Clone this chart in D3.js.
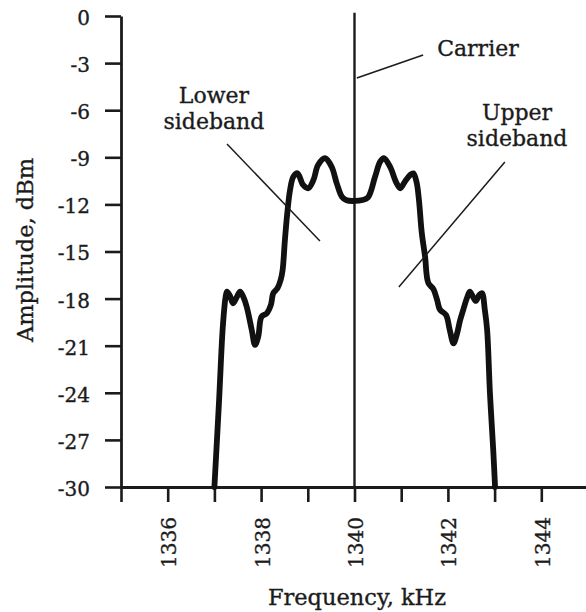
<!DOCTYPE html>
<html>
<head>
<meta charset="utf-8">
<script src="https://cdn.jsdelivr.net/npm/d3@7"></script>
<style>
  html, body { margin: 0; padding: 0; background: #fff; }
  svg { display: block; }
  text { font-family: "DejaVu Serif", "Liberation Serif", serif; fill: #1b1b1b;
         stroke: #1b1b1b; stroke-width: 0.35px; }
</style>
</head>
<body>
<svg id="chart" width="586" height="612"></svg>
<script>
// AM broadcast spectrum: carrier plus lower and upper sidebands
const spectrumKHz = [
  1337.00, 1337.10, 1337.18, 1337.24, 1337.27, 1337.33, 1337.40, 1337.48, 1337.55,
  1337.62, 1337.69, 1337.80, 1337.87, 1337.94, 1338.01, 1338.12, 1338.21, 1338.26,
  1338.35, 1338.42, 1338.46, 1338.51, 1338.56, 1338.62, 1338.69, 1338.78, 1338.90,
  1339.01, 1339.12, 1339.22, 1339.37, 1339.51, 1339.62, 1339.73, 1339.83, 1340.00,
  1340.17, 1340.29, 1340.44, 1340.55, 1340.63, 1340.76, 1340.90, 1340.98, 1341.08,
  1341.19, 1341.26, 1341.33, 1341.38, 1341.44, 1341.51, 1341.58, 1341.69, 1341.77,
  1341.83, 1341.96, 1342.04, 1342.12, 1342.19, 1342.26, 1342.33, 1342.41, 1342.47,
  1342.54, 1342.60, 1342.67, 1342.73, 1342.79, 1342.84, 1342.90, 1342.97, 1343.01
];
const spectrumDbm = [
  -30.0, -24.5, -19.8, -17.9, -17.55, -17.8, -18.3, -17.9, -17.56,
  -17.9, -18.5, -20.0, -20.95, -20.4, -19.15, -18.94, -18.4, -17.66,
  -17.34, -16.8, -16.2, -14.27, -12.57, -11.08, -10.24, -10.02, -10.76,
  -10.97, -10.45, -9.49, -9.06, -9.6, -10.66, -11.51, -11.74, -11.78,
  -11.72, -11.55, -10.24, -9.28, -9.06, -9.6, -10.64, -10.97, -10.55,
  -10.13, -10.02, -10.6, -11.72, -13.8, -15.3, -17.0, -17.4, -18.1,
  -18.7, -19.04, -20.0, -20.85, -20.3, -19.4, -18.7, -17.95, -17.56,
  -17.9, -18.15, -17.77, -17.66, -18.7, -20.0, -24.0, -27.6, -30.0
];
const carrierKHz = 1340;
const carrierDbm = 0.2;

const yTicks = [0, -3, -6, -9, -12, -15, -18, -21, -24, -27, -30];
const xTicks = [1335, 1336, 1337, 1338, 1339, 1340, 1341, 1342, 1343, 1344, 1345];
const xTickLabels = [1336, 1338, 1340, 1342, 1344];

// annotation text (lines) and leader lines, in kHz / dBm
const labelText = [["Carrier"], ["Lower", "sideband"], ["Upper", "sideband"]];
const labelAt = [[1341.77, -2.55], [1336.99, -5.54], [1343.48, -6.62]];
const labelAnchor = ["start", "middle", "middle"];
const leaderFrom = [[1340.05, -3.95], [1337.27, -8.15], [1343.22, -9.30]];
const leaderTo = [[1341.47, -2.48], [1339.26, -14.33], [1340.95, -17.26]];

const svg = d3.select("#chart");
const x = d3.scaleLinear().domain([1335, 1345]).range([121, 588]);
const y = d3.scaleLinear().domain([-30, 0]).range([487, 16]);

// axes
const yAxis = d3.axisLeft(y).tickValues(yTicks).tickSizeInner(16).tickSizeOuter(0)
  .tickPadding(15).tickFormat(d => d === 0 ? "0" : String(d));
const gy = svg.append("g").attr("transform", `translate(${x(1335)},0)`).call(yAxis);
gy.select(".domain").attr("stroke", "#1b1b1b").attr("stroke-width", 2.8);
gy.selectAll(".tick line").attr("stroke", "#1b1b1b").attr("stroke-width", 2.6);
gy.selectAll(".tick text").attr("font-size", 20).attr("font-family", null)
  .attr("dy", "0.42em").attr("fill", "#1b1b1b");

const xAxis = d3.axisBottom(x).tickValues(xTicks).tickSizeInner(15).tickSizeOuter(0)
  .tickFormat(d => xTickLabels.includes(d) ? String(d) : "");
const gx = svg.append("g").attr("transform", `translate(0,${y(-30)})`).call(xAxis);
gx.select(".domain").attr("stroke", "#1b1b1b").attr("stroke-width", 2.8);
gx.selectAll(".tick line").attr("stroke", "#1b1b1b").attr("stroke-width", 2.6);
gx.selectAll(".tick text")
  .attr("font-size", 20).attr("font-family", null).attr("fill", "#1b1b1b")
  .attr("transform", "rotate(-90)")
  .attr("text-anchor", "end")
  .attr("x", -30).attr("y", 0).attr("dy", "0.4em");

// axis titles
svg.append("text")
  .attr("x", 357).attr("y", 605)
  .attr("text-anchor", "middle").attr("font-size", 22.5)
  .text("Frequency, kHz");
svg.append("text")
  .attr("transform", "translate(33,250) rotate(-90)")
  .attr("text-anchor", "middle").attr("font-size", 22.5)
  .text("Amplitude, dBm");

// carrier
svg.append("line")
  .attr("x1", x(carrierKHz)).attr("x2", x(carrierKHz))
  .attr("y1", y(-30)).attr("y2", y(carrierDbm))
  .attr("stroke", "#1b1b1b").attr("stroke-width", 2.4);

// sideband envelope
const pts = spectrumKHz.map((f, i) => [f, spectrumDbm[i]]);
svg.append("path")
  .datum(pts)
  .attr("fill", "none")
  .attr("stroke", "#111")
  .attr("stroke-width", 5.8)
  .attr("stroke-linejoin", "round")
  .attr("stroke-linecap", "round")
  .attr("d", d3.line().x(d => x(d[0])).y(d => y(d[1])).curve(d3.curveCatmullRom.alpha(0.5)));

// leader lines
leaderFrom.forEach((p, i) => {
  svg.append("line")
    .attr("x1", x(p[0])).attr("y1", y(p[1]))
    .attr("x2", x(leaderTo[i][0])).attr("y2", y(leaderTo[i][1]))
    .attr("stroke", "#1b1b1b").attr("stroke-width", 1.5);
});

// annotation labels
labelText.forEach((lines, i) => {
  const t = svg.append("text")
    .attr("x", x(labelAt[i][0])).attr("y", y(labelAt[i][1]))
    .attr("text-anchor", labelAnchor[i]).attr("font-size", 22);
  lines.forEach((s, j) => {
    t.append("tspan").attr("x", x(labelAt[i][0])).attr("dy", j === 0 ? 0 : 26).text(s);
  });
});
</script>
</body>
</html>
